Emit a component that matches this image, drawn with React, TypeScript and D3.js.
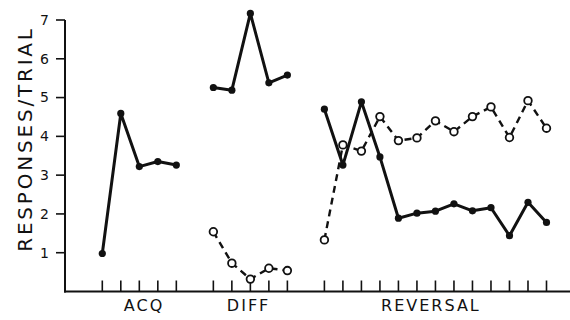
import React from 'react'
import * as d3 from 'd3';

const width = 570;
const height = 320;

// trial values
const acqFilled = [0.98, 4.59, 3.22, 3.35, 3.26];
const diffFilled = [5.26, 5.19, 7.17, 5.38, 5.58];
const diffOpen = [1.54, 0.73, 0.32, 0.60, 0.54];
const revFilled = [4.70, 3.26, 4.89, 3.47, 1.89, 2.02, 2.07, 2.26, 2.08, 2.16, 1.44, 2.30, 1.78];
const revOpen = [1.33, 3.78, 3.62, 4.51, 3.89, 3.96, 4.40, 4.12, 4.51, 4.76, 3.97, 4.92, 4.21];

const phaseNames = ["ACQ", "DIFF", "REVERSAL"];
const phaseStarts = [0, 6, 12];
const phaseLengths = [5, 5, 13];
const labelAt = [2.2, 7.85, 17.7]; // label centres, in trial units
const yTicks = [1, 2, 3, 4, 5, 6, 7];

const font = "'DejaVu Sans', sans-serif";

const x = d3.scaleLinear().domain([0, 24]).range([102.3, 546.5]);
const y = d3.scaleLinear().domain([0, 7]).range([291.5, 20]);
const axisLeftX = 65;

const toPts = (vals: number[], start: number) => vals.map((v, i) => [x(start + i), y(v)] as [number, number]);
const line = d3.line<[number, number]>();

const App = () => {
    const filled = [toPts(acqFilled, 0), toPts(diffFilled, 6), toPts(revFilled, 12)];
    const open = [toPts(diffOpen, 6), toPts(revOpen, 12)];
    const trialIdx: number[] = [];
    phaseStarts.forEach((s, k) => {
        for (let i = 0; i < phaseLengths[k]; i++) trialIdx.push(s + i);
    });

    return (
        <svg width={width} height={height} style={{position: "absolute", left: 0, top: 0, background: "#fff"}}>
            {/* y axis */}
            <line x1={axisLeftX} x2={axisLeftX} y1={y(0) + 1} y2={y(7)} stroke="#111" strokeWidth={2} />
            {yTicks.map(t => (
                <g key={t}>
                    <line x1={axisLeftX - 9} x2={axisLeftX} y1={y(t)} y2={y(t)} stroke="#111" strokeWidth={1.6} />
                    <text x={axisLeftX - 16} y={y(t)} dy="0.35em" textAnchor="end" fontSize={14} fontFamily={font} fill="#111">{t}</text>
                </g>
            ))}
            <text transform={`translate(25,139) rotate(-90)`} textAnchor="middle" dy="0.35em"
                fontSize={20} letterSpacing={2.8} fontFamily={font} fill="#111">RESPONSES/TRIAL</text>

            {/* x axis */}
            <line x1={axisLeftX - 1} x2={width} y1={y(0)} y2={y(0)} stroke="#111" strokeWidth={2} />
            {trialIdx.map(i => (
                <line key={i} x1={x(i)} x2={x(i)} y1={y(0)} y2={y(0) - 11} stroke="#111" strokeWidth={1.6} />
            ))}
            {phaseNames.map((n, k) => (
                <text key={n} x={x(labelAt[k]) + 1} y={311} textAnchor="middle"
                    fontSize={16} letterSpacing={2} fontFamily={font} fill="#111">{n}</text>
            ))}

            {/* open series, dashed */}
            {open.map((pts, k) => (
                <g key={"o" + k}>
                    <path d={line(pts) || ""} fill="none" stroke="#111" strokeWidth={2.4} strokeDasharray="7,5" />
                    {pts.map((p, i) => (
                        <circle key={i} cx={p[0]} cy={p[1]} r={3.8} fill="#fff" stroke="#111" strokeWidth={1.8} />
                    ))}
                </g>
            ))}

            {/* filled series, solid */}
            {filled.map((pts, k) => (
                <g key={"f" + k}>
                    <path d={line(pts) || ""} fill="none" stroke="#111" strokeWidth={3} strokeLinejoin="round" />
                    {pts.map((p, i) => (
                        <circle key={i} cx={p[0]} cy={p[1]} r={3.6} fill="#111" />
                    ))}
                </g>
            ))}
        </svg>
    )
}

export default App;
